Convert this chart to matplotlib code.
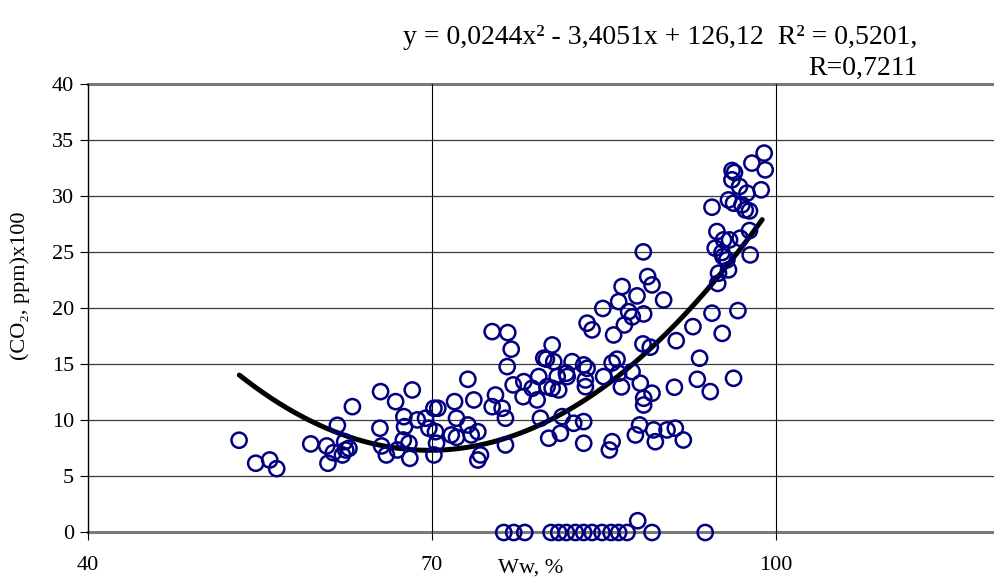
import matplotlib
matplotlib.use('Agg')
import matplotlib.pyplot as plt
import numpy as np

plt.rcParams['font.family'] = ['Liberation Serif', 'DejaVu Serif']

# Ww, % (x) and (CO2, ppm)x100 (y)
ww = [53.18, 54.63, 55.85, 56.46, 59.43, 60.82, 60.93, 61.40, 61.75, 62.19,
      62.48, 62.39, 62.76, 63.06, 65.52, 65.46, 65.61, 66.02, 66.83, 68.28,
      67.55, 67.61, 67.50, 67.99, 68.07, 66.98, 68.72, 69.44, 69.73, 70.17,
      70.51, 70.31, 70.40, 70.17, 71.97, 72.14, 71.68, 72.14, 73.13, 73.65,
      73.13, 73.42, 74.00, 74.23, 74.00, 75.54, 75.25, 76.12, 76.41, 76.41,
      76.56, 77.08, 78.01, 77.95, 75.25, 76.61, 76.91, 79.17, 78.74, 79.31,
      79.75, 79.98, 80.48, 80.62, 80.04, 80.48, 81.05, 80.92, 81.72, 81.79,
      82.22, 83.23, 83.53, 83.38, 83.38, 83.53, 83.96, 84.97, 85.84, 84.90,
      86.14, 85.71, 86.28, 86.52, 79.46, 81.35, 81.20, 80.18, 83.23, 82.36,
      83.23, 85.71, 85.47, 88.81, 89.19, 86.58, 87.88, 86.28, 87.15, 87.47,
      88.46, 90.20, 86.78, 88.40, 89.04, 91.30, 92.76, 94.42, 95.31, 94.92,
      87.45, 88.17, 89.19, 88.46, 88.46, 91.14, 93.34, 93.14, 94.27, 88.11,
      87.74, 89.33, 90.50, 91.22, 89.48, 91.92, 98.97, 97.90, 99.06, 96.17,
      96.38, 96.16, 96.82, 97.47, 98.71, 95.86, 96.30, 97.03, 97.32, 97.69,
      94.42, 94.85, 95.43, 95.95, 96.88, 97.69, 94.70, 95.29, 95.38, 95.72,
      97.75, 95.86, 94.99, 96.68, 96.30, 88.43,
      76.26, 77.13, 78.09, 80.39, 81.05, 81.72, 82.51, 83.23, 83.96, 84.83,
      85.62, 86.28, 87.01, 87.94, 89.19, 93.83]
co2 = [8.22, 6.17, 6.46, 5.69, 7.89, 7.71, 6.17, 7.11, 9.55, 6.91,
       7.35, 8.09, 7.50, 11.21, 12.55, 9.29, 7.71, 6.91, 11.66, 12.70,
       10.32, 9.43, 8.24, 7.95, 6.61, 7.35, 10.03, 10.18, 9.29, 11.07,
       11.07, 8.98, 7.95, 6.91, 11.66, 10.18, 8.69, 8.48, 13.65, 11.81,
       9.58, 8.69, 8.98, 6.91, 6.46, 12.25, 11.21, 11.07, 10.18, 7.80,
       14.78, 13.15, 13.44, 12.10, 17.90, 17.81, 16.33, 11.81, 12.85, 13.89,
       15.53, 15.44, 16.71, 15.22, 12.99, 12.85, 12.70, 13.89, 14.19, 13.89,
       15.22, 14.93, 14.63, 13.59, 12.99, 18.65, 18.05, 13.89, 17.60, 19.96,
       15.44, 15.11, 14.19, 12.97, 10.18, 10.32, 8.84, 8.40, 9.88, 9.73,
       7.95, 8.09, 7.35, 22.80, 22.06, 21.91, 21.08, 20.57, 19.68, 19.21,
       19.47, 20.72, 18.49, 16.80, 16.51, 17.09, 18.34, 19.54, 17.74, 22.19,
       14.33, 13.30, 12.41, 11.96, 11.36, 12.94, 15.53, 13.65, 12.55, 9.58,
       8.69, 9.14, 9.14, 9.29, 8.09, 8.24, 33.80, 32.91, 32.31, 32.25,
       32.07, 31.42, 30.82, 30.23, 30.53, 29.63, 29.34, 29.19, 28.74, 28.65,
       28.98, 26.81, 26.07, 26.07, 26.22, 26.90, 25.33, 24.94, 24.58, 24.29,
       24.73, 23.40, 23.10, 19.77, 13.74, 25.0,
       0, 0, 0, 0, 0, 0, 0, 0, 0, 0,
       0, 0, 0, 1.05, 0, 0]

# trend line y = 0,0244x^2 - 3,4051x + 126,12
coef = [0.0244, -3.4051, 126.12]
fit_from, fit_to = 53.2, 98.8

fig = plt.figure(figsize=(9.95, 5.8), dpi=100)
ax = fig.add_axes([0.0884, 0.0819, 0.9116, 0.7741])
ax.set_xlim(40, 119.1)
ax.set_ylim(0, 40)

for yv in range(5, 40, 5):
    ax.axhline(yv, color='#3a3a3a', lw=0.9, zorder=1)
for yv in (0, 40):
    ax.axhline(yv, color='#7a7a7a', lw=2.2, zorder=1, clip_on=False)
for xv in (70, 100):
    ax.axvline(xv, color='black', lw=0.8, zorder=1)

for s in ax.spines.values():
    s.set_visible(False)
ax.spines['left'].set_visible(True)
ax.spines['left'].set_color('black')
ax.spines['left'].set_linewidth(1)

xs = np.linspace(fit_from, fit_to, 200)
ax.plot(xs, np.polyval(coef, xs), color='black', lw=3.6, zorder=3, solid_capstyle='round')

ax.scatter(ww, co2, s=120, facecolors='none', edgecolors='#000080', linewidths=1.8,
           zorder=4, clip_on=False)

ax.set_xticks([40, 70, 100])
ax.set_yticks(range(0, 41, 5))
ax.tick_params(axis='both', direction='out', length=6, width=0.8, color='black',
               labelsize=16)
ax.tick_params(axis='x', pad=11)
ax.tick_params(axis='y', pad=4)

ax.set_ylabel('(CO\u2082, ppm)x100', fontsize=16)
ax.yaxis.set_label_coords(-0.064, 0.55)
fig.text(0.533, 0.013, 'Ww, %', fontsize=16, ha='center', va='baseline')

fig.text(0.922, 0.925, 'y = 0,0244x\u00b2 - 3,4051x + 126,12  R\u00b2 = 0,5201,',
         fontsize=20, ha='right', va='baseline')
fig.text(0.922, 0.870, 'R=0,7211', fontsize=20, ha='right', va='baseline')

fig.savefig('out.png', dpi=100)
